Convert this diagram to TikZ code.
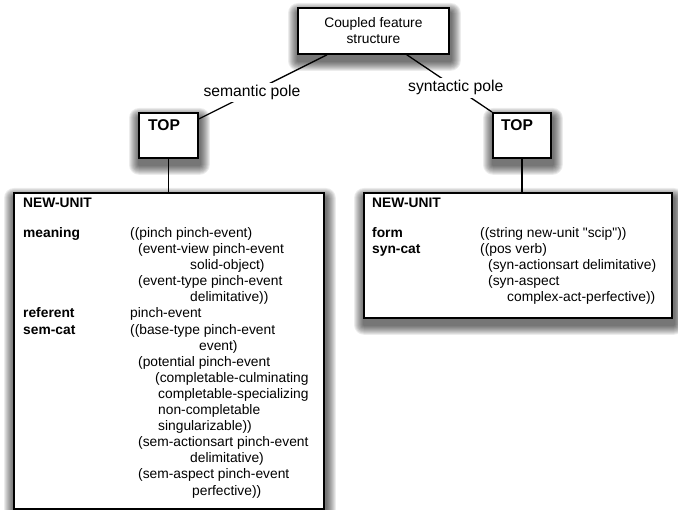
\documentclass[tikz,border=0pt]{standalone}
\usepackage{fontspec}
\newfontfamily\diagfont{Liberation Sans}
\usetikzlibrary{calc,backgrounds}
\begin{document}
\begin{tikzpicture}[x=1pt,y=-1pt,
  box/.style={draw=black, line width=1.8pt, fill=white, inner sep=0pt, anchor=north west},
  conn/.style={draw=black, line width=1.3pt},
  txt/.style={anchor=base west, inner sep=0pt, font=\diagfont\fontsize{13.8}{16.1}\selectfont},
  lbl/.style={anchor=base west, inner sep=0pt, font=\diagfont\bfseries\fontsize{13.8}{16.1}\selectfont},
  toplbl/.style={anchor=base west, inner sep=0pt, font=\diagfont\bfseries\fontsize{15.6}{18}\selectfont},
  pole/.style={fill=white, inner sep=2.5pt, font=\diagfont\fontsize{15.7}{18}\selectfont},
  shadowlayer/.style={fill=black, opacity=0.075},
]
\useasboundingbox (0,0) rectangle (678,510);

% boxes
\node[box, minimum width=151pt, minimum height=46pt, align=center,
      font=\diagfont\fontsize{13.8}{16}\selectfont] (cfs) at (297,7) {Coupled feature\\structure};
\node[box, minimum width=59pt, minimum height=45pt] (tl) at (138,112) {};
\node[box, minimum width=58pt, minimum height=45pt] (tr) at (492,112) {};
\node[box, minimum width=310pt, minimum height=316pt] (semU) at (13,192) {};
\node[box, minimum width=308pt, minimum height=125pt] (synU) at (363,192) {};

% soft drop shadows
\begin{scope}[on background layer]
\foreach \n in {cfs,tl,tr,semU,synU}{
  \foreach \r in {1,2,...,10}{
    \fill[shadowlayer, rounded corners=\r pt]
      ($(\n.north west)+(1-\r,6-\r)$) rectangle ($(\n.south east)+(1+\r,6+\r)$);
  }
}
\end{scope}

% connectors
\draw[conn] ($(cfs.south west)+(30,0)$) -- ($(tl.north east)+(0,7)$)
  node[pole, pos=0.585] (semlabel) {semantic pole};
\draw[conn] ($(cfs.south east)+(-43,0)$) -- (tr.north west)
  node[pole, pos=0.575] (synlabel) {syntactic pole};
\draw[conn] (tl.south) -- (tl.south |- semU.north);
\draw[conn] (tr.south) -- (tr.south |- synU.north);

% TOP labels
\node[toplbl] (tlT) at (148,131) {TOP};
\node[toplbl] (trT) at (501,131) {TOP};

% semantic unit
\node[lbl] (sNU) at (23,207.3) {NEW-UNIT};
\node[lbl] (sMean) at (23,237.5) {meaning};
\node[lbl] (sRef) at (23,318.0) {referent};
\node[lbl] (sSem) at (23,334.1) {sem-cat};
\node[txt] (s0) at (130,237.5) {((pinch pinch-event)};
\node[txt] (s1) at (138,253.6) {(event-view pinch-event};
\node[txt] (s2) at (190,269.7) {solid-object)};
\node[txt] (s3) at (138,285.8) {(event-type pinch-event};
\node[txt] (s4) at (190,301.9) {delimitative))};
\node[txt] (s5) at (130,318.0) {pinch-event};
\node[txt] (s6) at (130,334.1) {((base-type pinch-event};
\node[txt] (s7) at (199,350.2) {event)};
\node[txt] (s8) at (138,366.3) {(potential pinch-event};
\node[txt] (s9) at (155,382.4) {(completable-culminating};
\node[txt] (s10) at (158,398.5) {completable-specializing};
\node[txt] (s11) at (158,414.6) {non-completable};
\node[txt] (s12) at (158,430.7) {singularizable))};
\node[txt] (s13) at (138,446.8) {(sem-actionsart pinch-event};
\node[txt] (s14) at (190,462.9) {delimitative)};
\node[txt] (s15) at (138,479.0) {(sem-aspect pinch-event};
\node[txt] (s16) at (192,495.1) {perfective))};

% syntactic unit
\node[lbl] (yNU) at (372,207.3) {NEW-UNIT};
\node[lbl] (yForm) at (372,237.5) {form};
\node[lbl] (ySyn) at (372,253.6) {syn-cat};
\node[txt] (y0) at (480,237.5) {((string new-unit "scip"))};
\node[txt] (y1) at (480,253.6) {((pos verb)};
\node[txt] (y2) at (488,269.7) {(syn-actionsart delimitative)};
\node[txt] (y3) at (488,285.8) {(syn-aspect};
\node[txt] (y4) at (507,301.9) {complex-act-perfective))};
\end{tikzpicture}
\end{document}
